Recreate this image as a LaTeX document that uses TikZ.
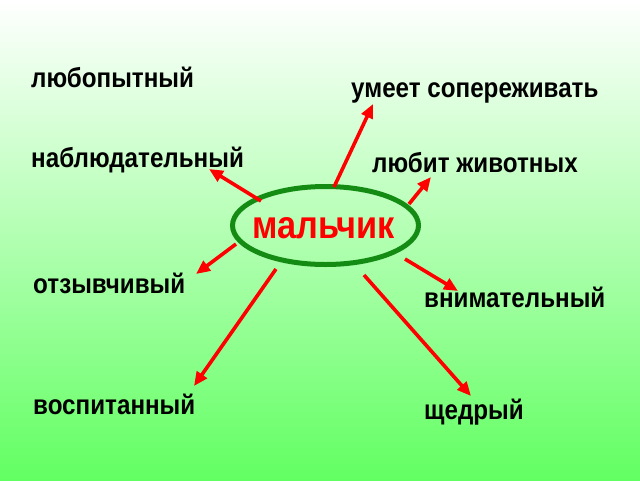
\documentclass[tikz,border=0pt]{standalone}
\usepackage{fontspec}
\setmainfont{Liberation Sans}[BoldFont={Liberation Sans Bold}, BoldFeatures={FakeStretch=0.88}]
\usetikzlibrary{arrows.meta,shapes.geometric}
\definecolor{bgbottom}{RGB}{98,255,98}
\definecolor{ovalgreen}{RGB}{20,140,20}
\definecolor{arrowred}{RGB}{255,0,0}
\tikzset{
  word/.style={anchor=base west, inner sep=0pt, font=\bfseries\fontsize{27.5}{32}\selectfont, text=black},
  conn/.style={draw=arrowred, line width=3.6pt, -{Triangle[length=14pt,width=12pt]}},
}
\begin{document}
\begin{tikzpicture}[x=1pt,y=-1pt]
\useasboundingbox (0,0) rectangle (640,480);
\shade[top color=white, bottom color=bgbottom] (0,0) rectangle (640,480);
% central oval
\node[draw=ovalgreen, line width=5pt, ellipse, minimum width=186pt, minimum height=78pt, inner sep=0pt] (boy) at (325.5,225.5) {};
\node[anchor=base, inner sep=0pt, font=\bfseries\fontsize{39}{42}\selectfont, text=arrowred] (boytext) at (324,238) {мальчик};
% words
\node[word] (w1) at (31,87) {любопытный};
\node[word] (w2) at (351,97) {умеет сопереживать};
\node[word] (w3) at (31,167) {наблюдательный};
\node[word] (w4) at (372,172) {любит животных};
\node[word] (w5) at (33,293) {отзывчивый};
\node[word] (w6) at (424,307) {внимательный};
\node[word] (w7) at (33,414) {воспитанный};
\node[word] (w8) at (424,419) {щедрый};
% arrow ends
\coordinate (s2) at (334,187); \coordinate (t2) at (373,104);
\coordinate (s3) at (261,201); \coordinate (t3) at (209,169);
\coordinate (s4) at (409,204); \coordinate (t4) at (431,177);
\coordinate (s5) at (236,244); \coordinate (t5) at (196,274);
\coordinate (s6) at (405,259); \coordinate (t6) at (458,291);
\coordinate (s7) at (276,269); \coordinate (t7) at (194,386);
\coordinate (s8) at (364,275); \coordinate (t8) at (471,396);
\draw[conn] (s2) -- (t2);
\draw[conn] (s3) -- (t3);
\draw[conn] (s4) -- (t4);
\draw[conn] (s5) -- (t5);
\draw[conn] (s6) -- (t6);
\draw[conn] (s7) -- (t7);
\draw[conn] (s8) -- (t8);
\end{tikzpicture}
\end{document}
